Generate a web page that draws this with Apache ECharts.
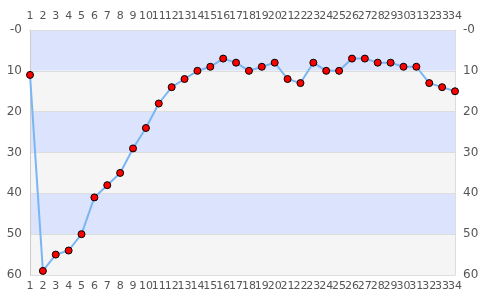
<!DOCTYPE html>
<html><head><meta charset="utf-8">
<script src="https://cdn.jsdelivr.net/npm/echarts@6/dist/echarts.min.js"></script>
<style>html,body{margin:0;padding:0;background:#fff}#c{width:485px;height:300px}</style>
</head><body><div id="c"></div>
<script>
var categories = ['1','2','3','4','5','6','7','8','9','10','11','12','13','14','15','16','17','18','19','20','21','22','23','24','25','26','27','28','29','30','31','32','33','34'];
var values = [11,59,55,54,50,41,38,35,29,24,18,14,12,10,9,7,8,10,9,8,12,13,8,10,10,7,7,8,8,9,9,13,14,15];
var yTicks = [0,10,20,30,40,50,60];

var chart = echarts.init(document.getElementById('c'));
var labelStyle = {color:'#555', fontSize:11, fontFamily:'DejaVu Sans'};
function yFmt(v){ return v===0 ? '-0' : String(v); }
chart.setOption({
  animation:false,
  grid:{left:30, right:30, top:30, bottom:25},
  xAxis:[
    {type:'category', data:categories, boundaryGap:false, position:'bottom',
     axisLine:{show:true, lineStyle:{color:'#ccc'}}, axisTick:{show:false},
     axisLabel:Object.assign({interval:0, margin:6}, labelStyle)},
    {type:'category', data:categories, boundaryGap:false, position:'top',
     axisLine:{show:true, lineStyle:{color:'#ddd'}}, axisTick:{show:false},
     axisLabel:Object.assign({interval:0, margin:8}, labelStyle)}
  ],
  yAxis:[
    {type:'value', inverse:true, min:yTicks[0], max:yTicks[yTicks.length-1], interval:10, position:'left',
     axisLine:{show:true, lineStyle:{color:'#ccc'}}, axisTick:{show:false},
     axisLabel:Object.assign({formatter:yFmt, margin:8, fontSize:12}, {color:'#555', fontFamily:'DejaVu Sans'}),
     splitLine:{show:true, lineStyle:{color:'#ddd'}},
     splitArea:{show:true, areaStyle:{color:['#dce3fd','#f5f5f5']}}},
    {type:'value', inverse:true, min:yTicks[0], max:yTicks[yTicks.length-1], interval:10, position:'right',
     axisLine:{show:true, lineStyle:{color:'#ddd'}}, axisTick:{show:false},
     axisLabel:Object.assign({formatter:yFmt, margin:8, fontSize:12}, {color:'#555', fontFamily:'DejaVu Sans'}),
     splitLine:{show:false}}
  ],
  series:[{
    type:'line', data:values, xAxisIndex:0, yAxisIndex:0,
    lineStyle:{color:'#7ab6f4', width:2},
    symbol:'circle', symbolSize:7,
    itemStyle:{color:'#ff0000', borderColor:'#000', borderWidth:1}
  }]
});
</script></body></html>
